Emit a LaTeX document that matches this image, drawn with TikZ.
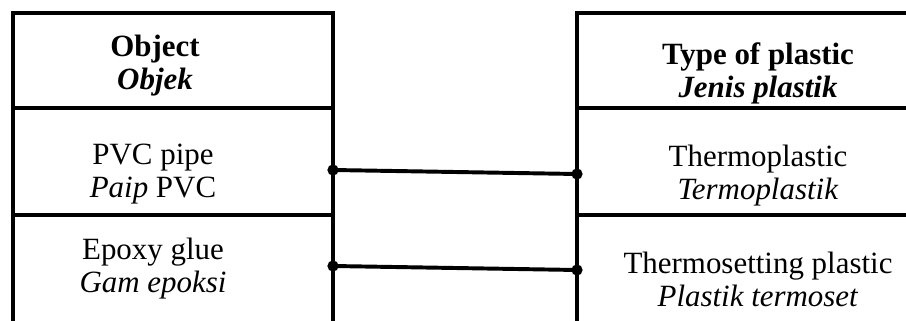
\documentclass[tikz,border=0pt]{standalone}
\usepackage{fontspec}
\setmainfont{Liberation Serif}
\usetikzlibrary{positioning}

\begin{document}
\begin{tikzpicture}[x=0.025cm, y=-0.025cm, font=\fontsize{22}{23.5}\selectfont,
   rule/.style={line width=2.8pt},
   cell/.style={align=center, inner sep=0pt},
   dot/.style={circle, fill, inner sep=0pt, minimum size=8pt}]
  \useasboundingbox (0,0) rectangle (906,321);
  % left table
  \draw[rule] (13,321) -- (13,13) -- (333,13) -- (333,321);
  % right table, open to the right
  \draw[rule] (906,13) -- (577,13) -- (577,321);
  % row rules
  \foreach \yy in {108,215}{
    \draw[rule] (13,\yy) -- (333,\yy);
    \draw[rule] (577,\yy) -- (906,\yy);
  }
  % cells
  \node[cell] (obj) at (155,66) {\bfseries Object\\\bfseries\itshape Objek};
  \node[cell] (pvc) at (153,174) {PVC pipe\\\textit{Paip} PVC};
  \node[cell] (epoxy) at (153,269) {Epoxy glue\\\textit{Gam epoksi}};
  \node[cell] (type) at (758,73) {\bfseries Type of plastic\\\bfseries\itshape Jenis plastik};
  \node[cell] (thermo) at (758,176) {Thermoplastic\\\textit{Termoplastik}};
  \node[cell] (tset) at (758,279) {Thermosetting plastic\\\textit{Plastik termoset}};
  % links
  \node[dot] (pvcR) at (333,170) {};
  \node[dot] (thermoL) at (577,174) {};
  \node[dot] (epoxyR) at (333,266) {};
  \node[dot] (tsetL) at (577,270) {};
  \draw[rule] (pvcR.center) -- (thermoL.center);
  \draw[rule] (epoxyR.center) -- (tsetL.center);
\end{tikzpicture}
\end{document}
